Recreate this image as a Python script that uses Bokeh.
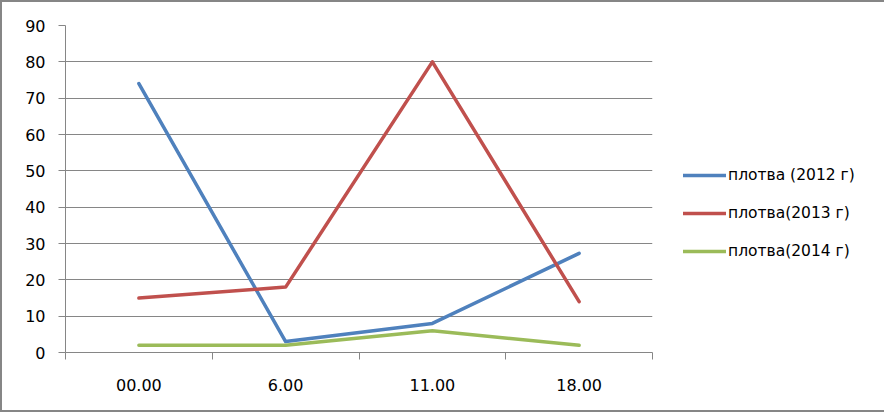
from bokeh.plotting import figure
from bokeh.models import Range1d, FixedTicker, Legend, LegendItem
from bokeh.embed import file_html
from bokeh.resources import INLINE

categories = ["00.00", "6.00", "11.00", "18.00"]
s2012 = [74, 3, 8, 27.3]
s2013 = [15, 18, 80, 14]
s2014 = [2, 2, 6, 2]
series_labels = ["плотва (2012 г)", "плотва(2013 г)", "плотва(2014 г)"]
y_ticks = list(range(0, 100, 10))

colors = ["#4F81BD", "#C0504D", "#9BBB59"]
GRID = "#868686"
FONT = "DejaVu Sans"

x = [i + 0.5 for i in range(len(categories))]
bounds = list(range(len(categories) + 1))

p = figure(frame_width=587, frame_height=327,
           min_border_left=63, min_border_right=222, min_border_top=23, min_border_bottom=58,
           x_range=Range1d(0, len(categories)), y_range=Range1d(0, 90),
           output_backend="svg", toolbar_location=None,
           background_fill_color="white", border_fill_color="white")
p.outline_line_color = None
p.styles = {"border": "2px solid #868686", "box-sizing": "border-box"}

# y axis
p.yaxis.ticker = FixedTicker(ticks=y_ticks, minor_ticks=[])
p.yaxis.axis_line_color = GRID
p.yaxis.major_tick_line_color = GRID
p.yaxis.major_tick_out = 7
p.yaxis.major_tick_in = 0
p.yaxis.minor_tick_line_color = None
p.yaxis.major_label_standoff = 13
p.yaxis.major_label_text_font = FONT
p.yaxis.major_label_text_font_size = "16px"
p.yaxis.major_label_text_color = "black"

# x axis
p.xaxis.ticker = FixedTicker(ticks=x, minor_ticks=bounds)
p.xaxis.major_label_overrides = {xi: c for xi, c in zip(x, categories)}
p.xaxis.axis_line_color = GRID
p.xaxis.major_tick_out = 0
p.xaxis.major_tick_in = 0
p.xaxis.major_tick_line_color = None
p.xaxis.minor_tick_out = 7
p.xaxis.minor_tick_in = 0
p.xaxis.minor_tick_line_color = GRID
p.xaxis.major_label_standoff = 19
p.xaxis.major_label_text_font = FONT
p.xaxis.major_label_text_font_size = "16px"
p.xaxis.major_label_text_color = "black"

p.xgrid.visible = False
p.ygrid.ticker = FixedTicker(ticks=y_ticks, minor_ticks=[])
p.ygrid.grid_line_color = GRID
p.ygrid.grid_line_width = 1

renderers = []
for vals, col in zip([s2012, s2013, s2014], colors):
    r = p.line(x, vals, line_color=col, line_width=3.5, line_cap="round", line_join="round")
    renderers.append(r)

legend = Legend(items=[LegendItem(label=lab, renderers=[r]) for lab, r in zip(series_labels, renderers)],
                location=(31, 91), padding=0, margin=0, spacing=18,
                glyph_width=43, glyph_height=20, label_height=20, label_standoff=2,
                label_text_font=FONT, label_text_font_size="15.5px", label_text_color="black",
                border_line_color=None, background_fill_alpha=0)
p.add_layout(legend, "right")

open("out.html", "w").write(file_html(p, INLINE))
